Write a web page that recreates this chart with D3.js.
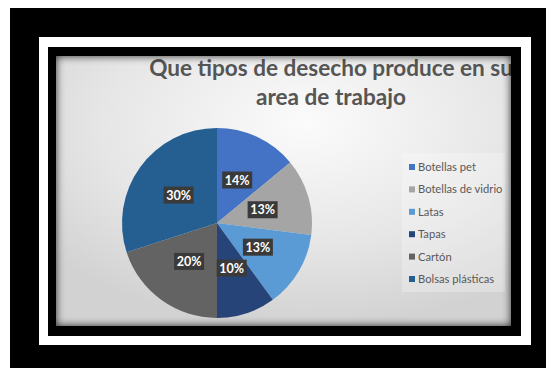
<!DOCTYPE html>
<html>
<head>
<meta charset="utf-8">
<script src="https://cdn.jsdelivr.net/npm/d3@7"></script>
<style>
  html, body { margin: 0; padding: 0; background: #fff; }
  svg { display: block; }
</style>
</head>
<body>
<svg id="chart" width="546" height="368"></svg>
<script>
// Waste types and their share of the total (percent)
const categories = ["Botellas pet", "Botellas de vidrio", "Latas", "Tapas", "Cartón", "Bolsas plásticas"];
const values = [14, 13, 13, 10, 20, 30];
const colors = ["#4472C4", "#A5A5A5", "#5B9BD5", "#264478", "#636363", "#255E91"];
const titleLines = ["Que tipos de desecho produce en su", "area de trabajo"];

const svg = d3.select("#chart");
const W = 546, H = 368;

// Framing: black mat, white border, black inner border
svg.append("rect").attr("x", 10).attr("y", 8).attr("width", W - 10).attr("height", H - 8).attr("fill", "#000");
svg.append("rect").attr("x", 39).attr("y", 37).attr("width", 492).attr("height", 308).attr("fill", "#fff");
svg.append("rect").attr("x", 48).attr("y", 47).attr("width", 473).attr("height", 289).attr("fill", "#000");

// Chart area
const area = { x: 56, y: 56, w: 455, h: 270 };
const defs = svg.append("defs");

const bg = defs.append("radialGradient").attr("id", "bgGrad")
  .attr("cx", "55%").attr("cy", "25%").attr("r", "75%");
bg.append("stop").attr("offset", "0%").attr("stop-color", "#fbfbfb");
bg.append("stop").attr("offset", "60%").attr("stop-color", "#e6e6e6");
bg.append("stop").attr("offset", "100%").attr("stop-color", "#d2d2d2");

defs.append("clipPath").attr("id", "areaClip")
  .append("rect").attr("x", area.x).attr("y", area.y).attr("width", area.w).attr("height", area.h);

const inset = defs.append("filter").attr("id", "insetShadow")
  .attr("x", "-5%").attr("y", "-5%").attr("width", "110%").attr("height", "110%");
inset.append("feFlood").attr("flood-color", "#000").attr("flood-opacity", 0.8).attr("result", "flood");
inset.append("feComposite").attr("in", "flood").attr("in2", "SourceAlpha").attr("operator", "out").attr("result", "outside");
inset.append("feGaussianBlur").attr("in", "outside").attr("stdDeviation", 4).attr("result", "blur");
inset.append("feComposite").attr("in", "blur").attr("in2", "SourceAlpha").attr("operator", "in");

svg.append("rect").attr("x", area.x).attr("y", area.y).attr("width", area.w).attr("height", area.h)
  .attr("fill", "url(#bgGrad)");

const g = svg.append("g").attr("clip-path", "url(#areaClip)");

// Title, two centred lines
const titleCx = 331;
const title = g.append("g").attr("fill", "#555555")
  .style("font-family", "Lato, 'Open Sans', sans-serif").style("font-weight", "bold");
const t2 = title.append("text").attr("x", titleCx).attr("y", 105).attr("text-anchor", "middle")
  .style("font-size", "20px").text(titleLines[1]);
// size the title so its second line spans its usual width
const fs = 20 * 150 / t2.node().getComputedTextLength();
t2.style("font-size", fs + "px");
title.append("text").attr("x", titleCx).attr("y", 76).attr("text-anchor", "middle")
  .style("font-size", fs + "px").text(titleLines[0]);

// Pie
const cx = 217, cy = 223, r = 95;
const pie = d3.pie().sort(null).value(d => d)(values);
const arc = d3.arc().innerRadius(0).outerRadius(r);
const pg = g.append("g").attr("transform", `translate(${cx},${cy})`);
pg.selectAll("path.slice").data(pie).join("path")
  .attr("class", "slice")
  .attr("d", arc)
  .attr("fill", (d, i) => colors[i]);

// Data labels in dark boxes at the slice centroids
const lab = pg.selectAll("g.lab").data(pie).join("g")
  .attr("class", "lab")
  .attr("transform", d => `translate(${arc.centroid(d)})`);
lab.append("rect").attr("x", -15).attr("y", -8.5).attr("width", 30).attr("height", 17)
  .attr("fill", "#3a3a3a");
lab.append("text").attr("text-anchor", "middle").attr("dy", "0.36em")
  .attr("fill", "#fff")
  .style("font-family", "Lato, 'Open Sans', sans-serif").style("font-weight", "bold").style("font-size", "12.5px")
  .text(d => d.data + "%");

// Legend
g.append("rect").attr("x", 402).attr("y", 153).attr("width", 103).attr("height", 139)
  .attr("fill", "#fff").attr("fill-opacity", 0.25);
const ly = d3.scalePoint().domain(categories).range([167, 279]);
const leg = g.selectAll("g.leg").data(categories).join("g")
  .attr("class", "leg")
  .attr("transform", d => `translate(409,${ly(d)})`);
leg.append("rect").attr("x", 0).attr("y", -3).attr("width", 6).attr("height", 6)
  .attr("fill", (d, i) => colors[i]);
leg.append("text").attr("x", 9).attr("dy", "0.35em").attr("fill", "#595959")
  .style("font-family", "Lato, 'Open Sans', sans-serif").style("font-size", "11.2px")
  .text(d => d);

// Soft inner shadow along the chart area edges
svg.append("rect").attr("x", area.x).attr("y", area.y).attr("width", area.w).attr("height", area.h)
  .attr("fill", "#000").attr("filter", "url(#insetShadow)").style("pointer-events", "none");
</script>
</body>
</html>
